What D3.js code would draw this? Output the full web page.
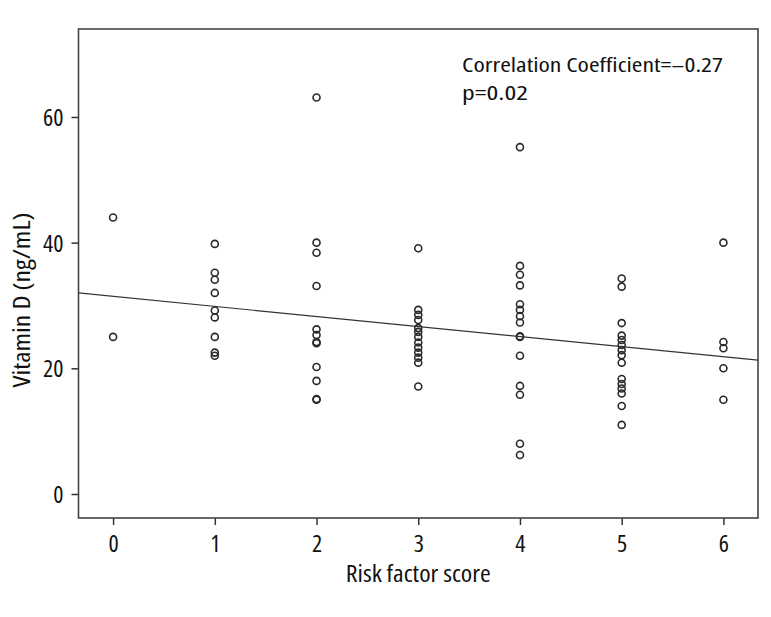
<!DOCTYPE html>
<html><head><meta charset="utf-8">
<script src="https://cdn.jsdelivr.net/npm/d3@7/dist/d3.min.js"></script>
<style>
body{margin:0;background:#fff;}
text{font-family:"Open Sans","Liberation Sans",sans-serif;font-stretch:condensed;fill:#111;}
</style></head><body>
<script>
// Data
const riskScores = [0,1,2,3,4,5,6];
const vitD_0 = [44,25];
const vitD_1 = [39.8,35.2,34.1,32,29.2,28.1,25,22.5,22];
const vitD_2 = [63.1,40,38.4,33.1,26.2,25.3,24.2,24,20.2,18,15.1,15];
const vitD_3 = [39.1,29.3,28.5,27.7,26.4,25.8,25,24.1,23.3,22.5,21.7,20.9,17.1];
const vitD_4 = [55.2,36.3,34.9,33.2,30.2,29.3,28.3,27.3,25,25.1,22,17.2,15.8,8,6.2];
const vitD_5 = [34.3,33,27.2,25.2,24.5,23.7,22.9,22.1,20.9,18.3,17.5,16.8,16,14,11];
const vitD_6 = [40,24.2,23.2,20,15];
const yTicks = [0,20,40,60];
const xTicks = [0,1,2,3,4,5,6];
const fitIntercept = 31.45;
const fitSlope = -1.6;
const annotation = ["Correlation Coefficient=\u20130.27","p=0.02"];

const groups = [vitD_0,vitD_1,vitD_2,vitD_3,vitD_4,vitD_5,vitD_6];
const points = [];
groups.forEach((g,i)=>g.forEach(v=>points.push({x:riskScores[i],y:v})));

const W=771,H=617;
const L=78.5,R=758,T=29,B=518;
const FS="23px";
const svg=d3.select("body").append("svg").attr("width",W).attr("height",H);
const x=d3.scaleLinear().domain([-0.34,6.34]).range([L,R]);
const y=d3.scaleLinear().domain([-3.82,74]).range([B,T]);

function fitTo(sel, width){
  sel.attr("textLength",width).attr("lengthAdjust","spacingAndGlyphs");
}

// axes
const ya=svg.append("g").attr("transform",`translate(${L},0)`)
  .call(d3.axisLeft(y).tickValues(yTicks).tickSize(7).tickPadding(8).tickFormat(d3.format("d")));
const xa=svg.append("g").attr("transform",`translate(0,${B})`)
  .call(d3.axisBottom(x).tickValues(xTicks).tickSize(7).tickPadding(6).tickFormat(d3.format("d")));
[ya,xa].forEach(a=>{
  a.select(".domain").remove();
  a.selectAll(".tick line").attr("stroke","#333").attr("stroke-width",1.5);
  a.selectAll(".tick text").style("font-size","24px").attr("fill","#111");
});
ya.selectAll(".tick text").attr("dy","0.36em");
xa.selectAll(".tick text").attr("y",34).attr("dy",0);

// frame
svg.append("rect").attr("x",L).attr("y",T).attr("width",R-L).attr("height",B-T)
  .attr("fill","none").attr("stroke","#444").attr("stroke-width",1.6);

// fit line
svg.append("clipPath").attr("id","c").append("rect").attr("x",L).attr("y",T).attr("width",R-L).attr("height",B-T);
const xd=x.domain();
svg.append("line").attr("clip-path","url(#c)")
  .attr("x1",x(xd[0])).attr("y1",y(fitIntercept+fitSlope*xd[0]))
  .attr("x2",x(xd[1])).attr("y2",y(fitIntercept+fitSlope*xd[1]))
  .attr("stroke","#333").attr("stroke-width",1.2);

// points
svg.append("g").selectAll("circle").data(points).join("circle")
  .attr("cx",d=>x(d.x)).attr("cy",d=>y(d.y)).attr("r",3.5)
  .attr("fill","none").attr("stroke","#2a2a2a").attr("stroke-width",1.6);

// annotation
const ann=svg.append("g").selectAll("text").data(annotation).join("text")
  .attr("x",462).attr("y",(d,i)=>72+i*28).style("font-size","20px")
  .attr("textLength",(d,i)=>i===0?261:66).attr("lengthAdjust","spacingAndGlyphs")
  .text(d=>d);

// axis titles
const xt=svg.append("text").attr("x",x(3)).attr("y",582).attr("text-anchor","middle")
  .style("font-size",FS).text("Risk factor score");
fitTo(xt,145);
const yt=svg.append("text").attr("transform",`translate(30,300) rotate(-90)`).attr("text-anchor","middle")
  .style("font-size",FS).text("Vitamin D (ng/mL)");
fitTo(yt,175);
</script></body></html>
